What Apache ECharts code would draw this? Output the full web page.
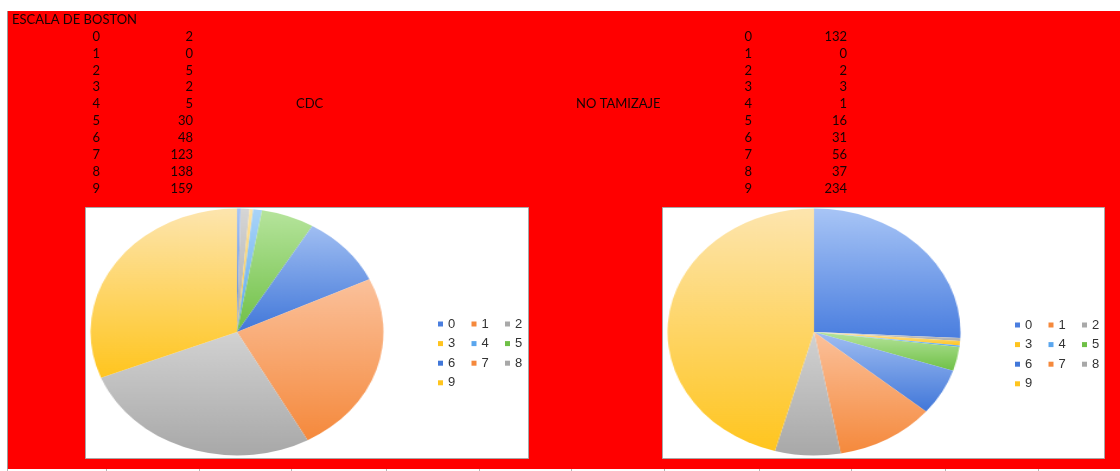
<!DOCTYPE html>
<html>
<head>
<meta charset="utf-8">
<script src="https://cdn.jsdelivr.net/npm/echarts@6/dist/echarts.min.js"></script>
<style>
  html, body { margin: 0; padding: 0; background: #fff; width: 1120px; height: 471px; overflow: hidden; }
  #sheet { position: absolute; left: 0; top: 0; width: 1120px; height: 471px; }
  /* pie canvases are square; stretched sideways to give the oval pies */
  .pie { position: absolute; width: 248px; height: 248px; transform: scaleX(1.186); transform-origin: 50% 50%; }
  #pieCdc { left: 112.5px; top: 207.5px; }
  #pieNo { left: 690px; top: 208px; }
</style>
</head>
<body>
<div id="sheet"></div>
<div id="pieCdc" class="pie"></div>
<div id="pieNo" class="pie"></div>
<script>
// Boston bowel preparation scale: score -> count per group
const tableTitle = 'ESCALA DE BOSTON';
const categories = ['0', '1', '2', '3', '4', '5', '6', '7', '8', '9'];
const cdcValues = [2, 0, 5, 2, 5, 30, 48, 123, 138, 159];
const noTamizajeValues = [132, 0, 2, 3, 1, 16, 31, 56, 37, 234];
const groupNames = ['CDC', 'NO TAMIZAJE'];

// slice colours: saturated base (bottom of gradient) and light tint (top)
const baseColors = ['#4A7EDF', '#F5893C', '#A9A9A9', '#FFC41F', '#5AA6EE', '#6FC046', '#4177D9', '#F5893C', '#A8A8A8', '#FFC51E'];
const lightColors = ['#A8C5F6', '#FBC19B', '#D6D6D6', '#FDE4AA', '#A9D4F8', '#B6E49C', '#A0BEF2', '#FBC19B', '#D2D2D2', '#FDE5AE'];

const textFont = '13px Lato';
const textColor = '#160404';

// ---------- sheet: red cells, table text, white chart boxes, legends ----------
const sheet = echarts.init(document.getElementById('sheet'));

const rowY = i => Math.round(36.7 + i * 16.93);
const colEdges = [7, 106, 199, 291, 386, 479, 571, 664, 759, 851, 945, 1038];

const graphics = [
  { type: 'rect', shape: { x: 8, y: 11, width: 1112, height: 458 }, style: { fill: '#FF0000' }, silent: true },
  { type: 'line', shape: { x1: 7.5, y1: 11, x2: 7.5, y2: 471 }, style: { stroke: '#9c9c9c', lineWidth: 1 }, silent: true },
  { type: 'rect', shape: { x: 85.5, y: 207.5, width: 443, height: 251 }, style: { fill: '#fff', stroke: '#a8a8a8', lineWidth: 1 }, silent: true },
  { type: 'rect', shape: { x: 662.5, y: 207.5, width: 442, height: 251 }, style: { fill: '#fff', stroke: '#a8a8a8', lineWidth: 1 }, silent: true },
  { type: 'text', style: { text: tableTitle, x: 12, y: 20, font: textFont, fill: textColor, align: 'left', verticalAlign: 'middle' }, silent: true },
  { type: 'text', style: { text: groupNames[0], x: 296, y: rowY(4), font: textFont, fill: textColor, align: 'left', verticalAlign: 'middle' }, silent: true },
  { type: 'text', style: { text: groupNames[1], x: 576, y: rowY(4), font: textFont, fill: textColor, align: 'left', verticalAlign: 'middle' }, silent: true }
];
colEdges.forEach(x => {
  graphics.push({ type: 'line', shape: { x1: x + 0.5, y1: 469, x2: x + 0.5, y2: 471 }, style: { stroke: '#b5b5b5', lineWidth: 1 }, silent: true });
});
categories.forEach((c, i) => {
  const y = rowY(i);
  graphics.push({ type: 'text', style: { text: c, x: 100, y, font: textFont, fill: textColor, align: 'right', verticalAlign: 'middle' }, silent: true });
  graphics.push({ type: 'text', style: { text: String(cdcValues[i]), x: 193, y, font: textFont, fill: textColor, align: 'right', verticalAlign: 'middle' }, silent: true });
  graphics.push({ type: 'text', style: { text: c, x: 752, y, font: textFont, fill: textColor, align: 'right', verticalAlign: 'middle' }, silent: true });
  graphics.push({ type: 'text', style: { text: String(noTamizajeValues[i]), x: 847, y, font: textFont, fill: textColor, align: 'right', verticalAlign: 'middle' }, silent: true });
});

// legend laid out as three vertical columns (row-major order across them)
const legendColumns = [0, 1, 2].map(col => categories.filter((c, i) => i % 3 === col));
function legendsAt(left, top) {
  return legendColumns.map((names, col) => ({
    orient: 'vertical',
    left: left + col * 33.5,
    top,
    padding: 0,
    itemGap: 6.6,
    itemWidth: 5,
    itemHeight: 5,
    icon: 'rect',
    selectedMode: false,
    data: names,
    textStyle: { fontSize: 13, color: '#333', fontFamily: 'Liberation Sans' }
  }));
}

// zero-radius pies carry the category colours for the legends
const legendSource = (name, values) => ({
  type: 'pie',
  name,
  radius: [0, 0],
  silent: true,
  label: { show: false },
  labelLine: { show: false },
  data: categories.map((c, i) => ({ name: c, value: values[i], itemStyle: { color: baseColors[i] } }))
});

sheet.setOption({
  animation: false,
  graphic: { elements: graphics },
  legend: legendsAt(438, 317.5).concat(legendsAt(1015, 318.5)),
  series: [legendSource(groupNames[0], cdcValues), legendSource(groupNames[1], noTamizajeValues)]
});

// ---------- pies ----------
function gradient(i) {
  return new echarts.graphic.LinearGradient(0, 0, 0, 1, [
    { offset: 0, color: lightColors[i] },
    { offset: 1, color: baseColors[i] }
  ]);
}

function drawPie(el, name, values) {
  const chart = echarts.init(el);
  chart.setOption({
    animation: false,
    series: [{
      type: 'pie',
      name,
      center: [124, 124],
      radius: 123.5,
      startAngle: 90,
      clockwise: true,
      silent: true,
      label: { show: false },
      labelLine: { show: false },
      itemStyle: { borderWidth: 0 },
      data: categories.map((c, i) => ({ name: c, value: values[i], itemStyle: { color: gradient(i) } }))
    }]
  });
}

drawPie(document.getElementById('pieCdc'), groupNames[0], cdcValues);
drawPie(document.getElementById('pieNo'), groupNames[1], noTamizajeValues);
</script>
</body>
</html>
